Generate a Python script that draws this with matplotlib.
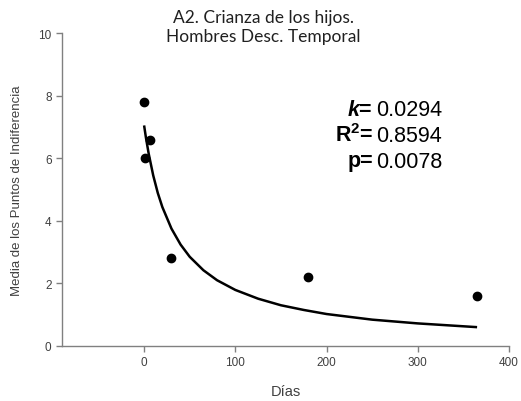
import numpy as np
import matplotlib.pyplot as plt

# observed indifference points
dias = [0, 1, 7, 30, 180, 365]
media = [7.8, 6.0, 6.6, 2.8, 2.2, 1.6]

# fitted curve
curva_x = [0, 2, 5, 10, 15, 20, 30, 40, 50, 65, 80, 100, 125, 150, 175, 200, 250, 300, 365]
curva_y = [7.05, 6.66, 6.15, 5.45, 4.89, 4.44, 3.75, 3.24, 2.85, 2.42, 2.10, 1.79,
           1.51, 1.30, 1.15, 1.02, 0.84, 0.72, 0.60]

etiquetas = [r"$\mathbfit{k}$=", r"R$^{\mathbf{2}}$=", "p="]
valores = ["0.0294", "0.8594", "0.0078"]

plt.rcParams['font.family'] = ['Liberation Sans', 'DejaVu Sans']
plt.rcParams['mathtext.fontset'] = 'custom'
plt.rcParams['mathtext.rm'] = 'Liberation Sans'
plt.rcParams['mathtext.it'] = 'Liberation Sans:italic'
plt.rcParams['mathtext.bf'] = 'Liberation Sans:bold'
plt.rcParams['mathtext.bfit'] = 'Liberation Sans:bold:italic'

fig = plt.figure(figsize=(5.21, 4.02), dpi=100)
ax = fig.add_axes([0.119, 0.137, 0.858, 0.778])

ax.plot(curva_x, curva_y, color='black', lw=1.8, solid_capstyle='butt')
ax.plot(dias, media, 'o', color='black', ms=6)

ax.set_xlim(-90, 400)
ax.set_ylim(0, 10)
ax.set_xticks([0, 100, 200, 300, 400])
ax.set_yticks([0, 2, 4, 6, 8, 10])

for s in ['top', 'right']:
    ax.spines[s].set_visible(False)
for s in ['left', 'bottom']:
    ax.spines[s].set_color('#808080')
    ax.spines[s].set_linewidth(1.0)
ax.tick_params(colors='#808080', labelcolor='#404040', labelsize=8.5, length=4, width=1.0)

ax.set_xlabel("Días", fontsize=10.5, color='#404040', labelpad=11)
ax.set_ylabel("Media de los Puntos de Indiferencia", fontsize=9.5, color='#404040', labelpad=11)

fig.text(0.505, 0.932, "A2. Crianza de los hijos.\nHombres Desc. Temporal",
         ha='center', va='center', fontsize=12.5, family=['Lato', 'DejaVu Sans'],
         linespacing=1.2, color='#202020')

for i, (et, val) in enumerate(zip(etiquetas, valores)):
    yy = 1 - (110 + i * 26) / 402
    fig.text(373 / 521, yy, et, ha='right', va='center', fontsize=15.5, fontweight='bold')
    fig.text(376 / 521, yy, val, ha='left', va='center', fontsize=15.5)

fig.savefig("out.png", dpi=100)
